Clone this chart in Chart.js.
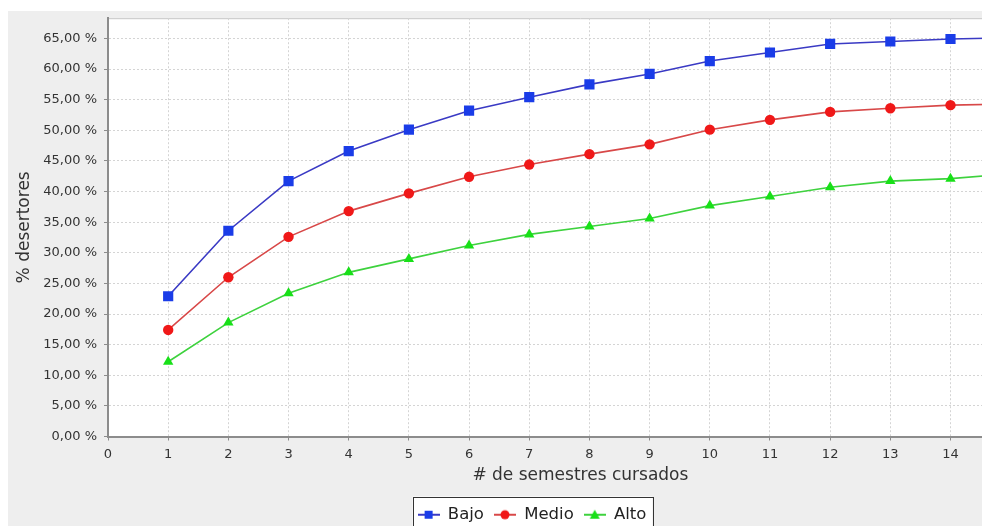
<!DOCTYPE html>
<html>
<head>
<meta charset="utf-8">
<script src="https://cdn.jsdelivr.net/npm/chart.js@4/dist/chart.umd.min.js"></script>
<style>
  html, body { margin: 0; padding: 0; background: #ffffff; overflow: hidden; width: 982px; height: 526px; }
  #panel { position: absolute; left: 8px; top: 11px; width: 1052px; height: 522px; background: #eeeeee; }
</style>
</head>
<body>
<div id="panel"><canvas id="desercionChart" width="1052" height="522"></canvas></div>
<script>
const semestres = [1, 2, 3, 4, 5, 6, 7, 8, 9, 10, 11, 12, 13, 14, 15];
const bajo  = [22.9, 33.6, 41.7, 46.6, 50.1, 53.2, 55.4, 57.5, 59.2, 61.3, 62.7, 64.1, 64.5, 64.9, 65.1];
const medio = [17.4, 26.0, 32.6, 36.8, 39.7, 42.4, 44.4, 46.1, 47.7, 50.1, 51.7, 53.0, 53.6, 54.1, 54.3];
const alto  = [12.2, 18.6, 23.4, 26.8, 29.0, 31.2, 33.0, 34.3, 35.6, 37.7, 39.2, 40.7, 41.7, 42.1, 42.9];

const xTicks = [0, 1, 2, 3, 4, 5, 6, 7, 8, 9, 10, 11, 12, 13, 14, 15];
const yTicks = [0, 5, 10, 15, 20, 25, 30, 35, 40, 45, 50, 55, 60, 65];

const FONT = "'DejaVu Sans', sans-serif";

function toPoints(values) {
  return semestres.map((s, i) => ({ x: s, y: values[i] }));
}

function formatPercent(v) {
  return v.toFixed(2).replace('.', ',') + ' %';
}

// small line + marker image used as the legend symbol
function legendIcon(lineColor, fillColor, shape) {
  const c = document.createElement('canvas');
  c.width = 22;
  c.height = 12;
  const g = c.getContext('2d');
  g.strokeStyle = lineColor;
  g.lineWidth = 2;
  g.beginPath();
  g.moveTo(0, 6);
  g.lineTo(22, 6);
  g.stroke();
  g.fillStyle = fillColor;
  g.beginPath();
  if (shape === 'rect') {
    g.rect(7, 2, 8, 8);
  } else if (shape === 'circle') {
    g.arc(11, 6, 4.5, 0, Math.PI * 2);
  } else {
    g.moveTo(11, 1);
    g.lineTo(16, 10);
    g.lineTo(6, 10);
    g.closePath();
  }
  g.fill();
  return c;
}

const series = [
  { label: 'Bajo',  data: bajo,  line: '#3a3ac4', fill: '#1a3ce8', shape: 'rect',     radius: 7.2 },
  { label: 'Medio', data: medio, line: '#d84848', fill: '#f01818', shape: 'circle',   radius: 5.2 },
  { label: 'Alto',  data: alto,  line: '#3ed23e', fill: '#18e018', shape: 'triangle', radius: 6 }
];

const icons = series.map((s) => legendIcon(s.line, s.fill, s.shape));

// white plot background, plot outline and the framed legend
const plotFrame = {
  id: 'plotFrame',
  beforeDraw(chart) {
    const { ctx, chartArea: a } = chart;
    ctx.save();
    ctx.fillStyle = '#ffffff';
    ctx.fillRect(a.left, a.top, a.right - a.left, a.bottom - a.top);
    ctx.strokeStyle = '#c4c4c4';
    ctx.lineWidth = 1;
    ctx.beginPath();
    ctx.moveTo(a.left, a.top + 0.5);
    ctx.lineTo(a.right, a.top + 0.5);
    ctx.stroke();

    const boxes = chart.legend.legendHitBoxes;
    if (boxes && boxes.length) {
      const left = Math.min(...boxes.map((b) => b.left)) - 5;
      const right = Math.max(...boxes.map((b) => b.left + b.width)) + 6;
      const top = boxes[0].top - 10;
      const bottom = boxes[0].top + boxes[0].height + 10;
      ctx.fillStyle = '#ffffff';
      ctx.fillRect(left, top, right - left, bottom - top);
      ctx.strokeStyle = '#333333';
      ctx.strokeRect(Math.round(left) + 0.5, Math.round(top) + 0.5, Math.round(right - left), Math.round(bottom - top));
    }
    ctx.restore();
  }
};

const ctx = document.getElementById('desercionChart').getContext('2d');

new Chart(ctx, {
  type: 'line',
  data: {
    datasets: series.map((s) => ({
      label: s.label,
      data: toPoints(s.data),
      borderColor: s.line,
      backgroundColor: s.fill,
      borderWidth: 1.6,
      pointStyle: s.shape,
      pointRadius: s.radius,
      pointHoverRadius: s.radius,
      pointBackgroundColor: s.fill,
      pointBorderColor: s.fill,
      pointBorderWidth: 0,
      tension: 0,
      fill: false
    }))
  },
  options: {
    responsive: false,
    animation: false,
    layout: { padding: { top: 7, right: 4, bottom: 0, left: 0 } },
    plugins: {
      tooltip: { enabled: false },
      legend: {
        position: 'bottom',
        labels: {
          usePointStyle: true,
          pointStyleWidth: 22,
          padding: 10,
          color: '#222222',
          font: { family: FONT, size: 16.5 },
          generateLabels(chart) {
            const items = Chart.defaults.plugins.legend.labels.generateLabels(chart);
            return items.map((item, i) => Object.assign(item, { pointStyle: icons[i] }));
          }
        }
      }
    },
    scales: {
      x: {
        type: 'linear',
        min: 0,
        max: 15.7,
        afterBuildTicks(scale) {
          scale.ticks = xTicks.map((v) => ({ value: v }));
        },
        afterFit(scale) {
          scale.height = 60;
          scale.paddingLeft = 0;
          scale.paddingRight = 0;
        },
        ticks: {
          color: '#333333',
          padding: 6,
          maxRotation: 0,
          font: { family: FONT, size: 13 }
        },
        grid: {
          color: '#d4d4d4',
          tickColor: '#8c8c8c',
          tickLength: 4,
          tickBorderDash: []
        },
        border: { color: '#8c8c8c', width: 2, dash: [2, 2] },
        title: {
          display: true,
          text: '# de semestres cursados',
          color: '#333333',
          padding: { top: 0, bottom: 11 },
          font: { family: FONT, size: 17 }
        }
      },
      y: {
        min: 0,
        max: 68.3,
        afterBuildTicks(scale) {
          scale.ticks = yTicks.map((v) => ({ value: v }));
        },
        afterFit(scale) {
          scale.width = 100;
          scale.paddingTop = 0;
          scale.paddingBottom = 0;
        },
        ticks: {
          color: '#333333',
          padding: 7,
          callback: (v) => formatPercent(v),
          font: { family: FONT, size: 13 }
        },
        grid: {
          color: '#d4d4d4',
          tickColor: '#8c8c8c',
          tickLength: 4,
          tickBorderDash: []
        },
        border: { color: '#8c8c8c', width: 2, dash: [2, 2] },
        title: {
          display: true,
          text: '% desertores',
          color: '#333333',
          padding: { top: 6, bottom: 0 },
          font: { family: FONT, size: 17 }
        }
      }
    }
  },
  plugins: [plotFrame]
});
</script>
</body>
</html>
